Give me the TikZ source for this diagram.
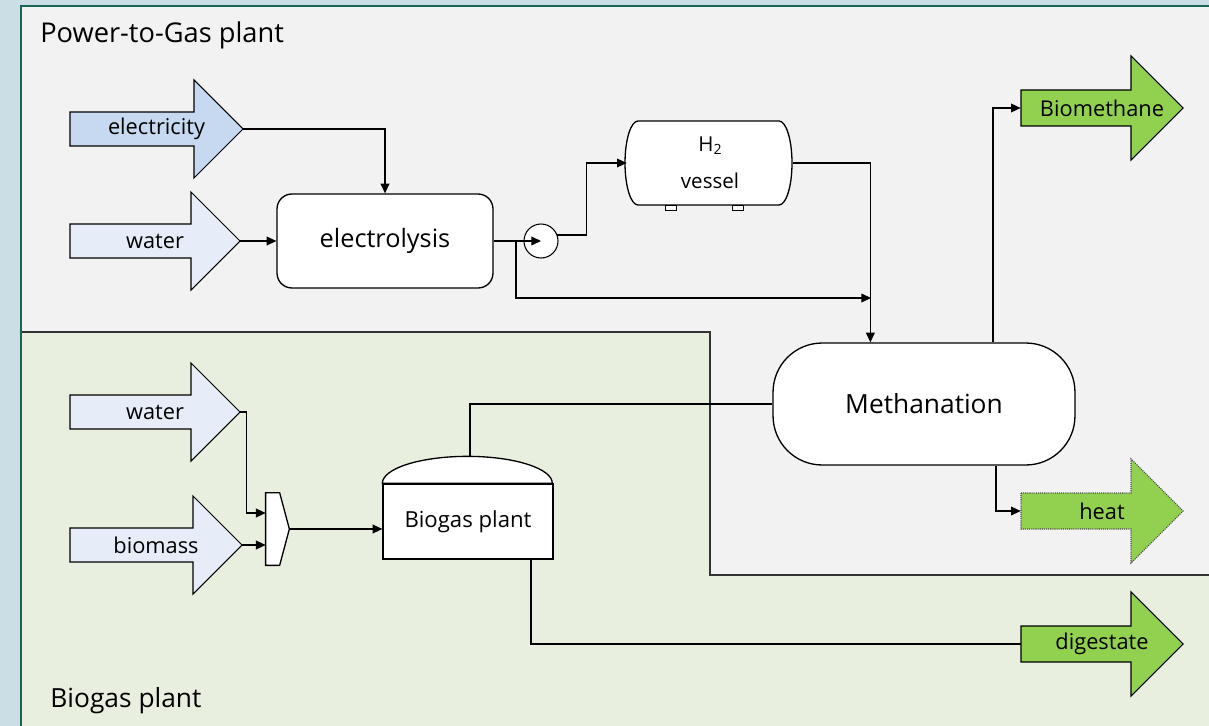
\documentclass[tikz,border=0pt]{standalone}
\usepackage{fontspec}
\setmainfont{Open Sans}
\usetikzlibrary{calc,arrows.meta}

\definecolor{skyback}{RGB}{203,221,229}
\definecolor{frameteal}{RGB}{26,100,82}
\definecolor{ptgback}{RGB}{242,242,242}
\definecolor{bioback}{RGB}{233,239,222}
\definecolor{elecblue}{RGB}{198,217,241}
\definecolor{inblue}{RGB}{230,237,248}
\definecolor{outgreen}{RGB}{146,208,80}

\tikzset{
  unit/.style={draw, fill=white, line width=0.75pt},
  flow/.style={line width=0.6pt, -{Triangle[length=5.5pt,width=5pt]}},
  pipe/.style={line width=0.6pt},
  inarrow/.style={draw, line width=0.6pt, fill=inblue},
  outarrow/.style={draw, line width=0.6pt, fill=outgreen},
  arrowlabel/.style={inner sep=0pt, minimum height=0.7cm, font=\fontsize{12.4}{14}\selectfont},
}

\begin{document}
\begin{tikzpicture}[x=0.02cm, y=-0.02cm]
    \useasboundingbox (0,0) rectangle (1209,726);

    % plant areas
    \fill[skyback] (0,0) rectangle (1209,726);
    \fill[ptgback] (21,6) rectangle (1209,726);
    \fill[bioback] (21,332) -- (710,332) -- (710,575) -- (1209,575) -- (1209,726) -- (21,726) -- cycle;
    \draw[line width=0.9pt, black!80] (21,332) -- (710,332) -- (710,575) -- (1209,575);
    \draw[frameteal, line width=1.7pt] (21,726) -- (21,6) -- (1209,6);

    \node[anchor=base west, inner sep=0pt, font=\fontsize{15.5}{18}\selectfont] (ptgname) at (40,43) {Power-to-Gas plant};
    \node[anchor=base west, inner sep=0pt, font=\fontsize{15}{18}\selectfont] (bgname) at (50,707) {Biogas plant};

    % feed arrows
    \draw[inarrow, fill=elecblue] (70,112) -- (194,112) -- (194,80) -- (243,129) -- (194,178) -- (194,146) -- (70,146) -- cycle;
    \draw[inarrow] (70,224) -- (191,224) -- (191,192) -- (240,241) -- (191,290) -- (191,258) -- (70,258) -- cycle;
    \draw[inarrow] (70,395) -- (191,395) -- (191,363) -- (240,412) -- (191,461) -- (191,429) -- (70,429) -- cycle;
    \draw[inarrow] (70,528) -- (193,528) -- (193,496) -- (242,545) -- (193,594) -- (193,562) -- (70,562) -- cycle;
    \node[arrowlabel, minimum width=3.46cm] (elec) at (156.5,129) {electricity};
    \node[arrowlabel, minimum width=3.4cm] (water) at (155,241) {water};
    \node[arrowlabel, minimum width=3.4cm] (water2) at (155,412) {water};
    \node[arrowlabel, minimum width=3.44cm] (biomass) at (156,545) {biomass};

    % product arrows
    \draw[outarrow] (1021,90) -- (1131,90) -- (1131,56) -- (1183,108) -- (1131,160) -- (1131,126) -- (1021,126) -- cycle;
    \draw[outarrow, draw=black!70, dash pattern=on 0.6pt off 0.6pt] (1021,493) -- (1131,493) -- (1131,459) -- (1183,511) -- (1131,563) -- (1131,529) -- (1021,529) -- cycle;
    \draw[outarrow] (1021,626) -- (1131,626) -- (1131,592) -- (1183,644) -- (1131,696) -- (1131,662) -- (1021,662) -- cycle;
    \node[arrowlabel, minimum width=3.24cm] (biometh) at (1102,108) {Biomethane};
    \node[arrowlabel, minimum width=3.24cm] (heat) at (1102,511) {heat};
    \node[arrowlabel, minimum width=3.24cm] (digest) at (1102,644) {digestate};

    % units
    \node[unit, rounded corners=8.5pt, minimum width=4.32cm, minimum height=1.88cm, font=\fontsize{14.4}{17}\selectfont] (elys) at (385,241) {electrolysis};
    \node[unit, circle, minimum size=0.68cm, inner sep=0pt, line width=0.6pt] (pump) at (541,241) {};

    \draw[unit, line width=0.5pt] (665,205) rectangle (676,210);
    \draw[unit, line width=0.5pt] (732,205) rectangle (743,210);
    \draw[unit] (638,121) -- (779,121) arc[start angle=90, end angle=-90, x radius=0.26cm, y radius=0.84cm]
        -- (638,205) arc[start angle=270, end angle=90, x radius=0.26cm, y radius=0.84cm] -- cycle;
    \node[minimum width=3.32cm, minimum height=1.68cm, inner sep=0pt, align=center, font=\fontsize{11.7}{21}\selectfont] (vessel) at (710,163)
        {H{\fontsize{8}{8}\selectfont\raisebox{-0.4ex}{2}}\\vessel};

    \node[unit, rounded corners=28pt, minimum width=6.04cm, minimum height=2.44cm, font=\fontsize{15}{18}\selectfont] (meth) at (924,404) {Methanation};

    \node[minimum width=0.46cm, minimum height=1.44cm, inner sep=0pt] (mix) at (277.5,529) {};
    \draw[unit] (mix.north west) -- ++(14,0) -- (mix.east) -- ($(mix.south west)+(14,0)$) -- (mix.south west) -- cycle;

    \node[unit, minimum width=3.4cm, minimum height=1.5cm, font=\fontsize{12.6}{15}\selectfont] (bgp) at (468,521.5) {Biogas plant};
    \draw[unit] (bgp.north west) arc[start angle=180, end angle=0, x radius=1.7cm, y radius=0.54cm] -- cycle;

    % streams
    \coordinate (split) at (516,241);
    \coordinate (tee) at (871,298);
    \coordinate (methin) at ($(meth.north west)+(98,0)$);

    \draw[flow] (elec.east) -| (elys.north);
    \draw[flow] (water.east) -- (elys.west);
    \draw[flow] (elys.east) -- (pump.center);
    \draw[flow] (split) |- (tee);
    \draw[flow] (pump.20) -- ++(29,0) |- (vessel.west);
    \draw[flow] (vessel.east) -| (methin);
    \draw[flow] ($(meth.north)+(69,0)$) |- (biometh.west);
    \draw[flow] ($(meth.south)+(72,0)$) |- (heat.west);
    \draw[pipe] ($(bgp.north)+(2,-27)$) |- (meth.west);
    \draw[pipe] ($(bgp.south)+(63,0)$) |- (digest.west);
    \draw[flow] (water2.east) -- ++(6,0) |- ($(mix.west)+(0,-16)$);
    \draw[flow] (biomass.east) -- (biomass.east -| mix.west);
    \draw[flow] (mix.east) -- (mix.east -| bgp.west);
\end{tikzpicture}
\end{document}
